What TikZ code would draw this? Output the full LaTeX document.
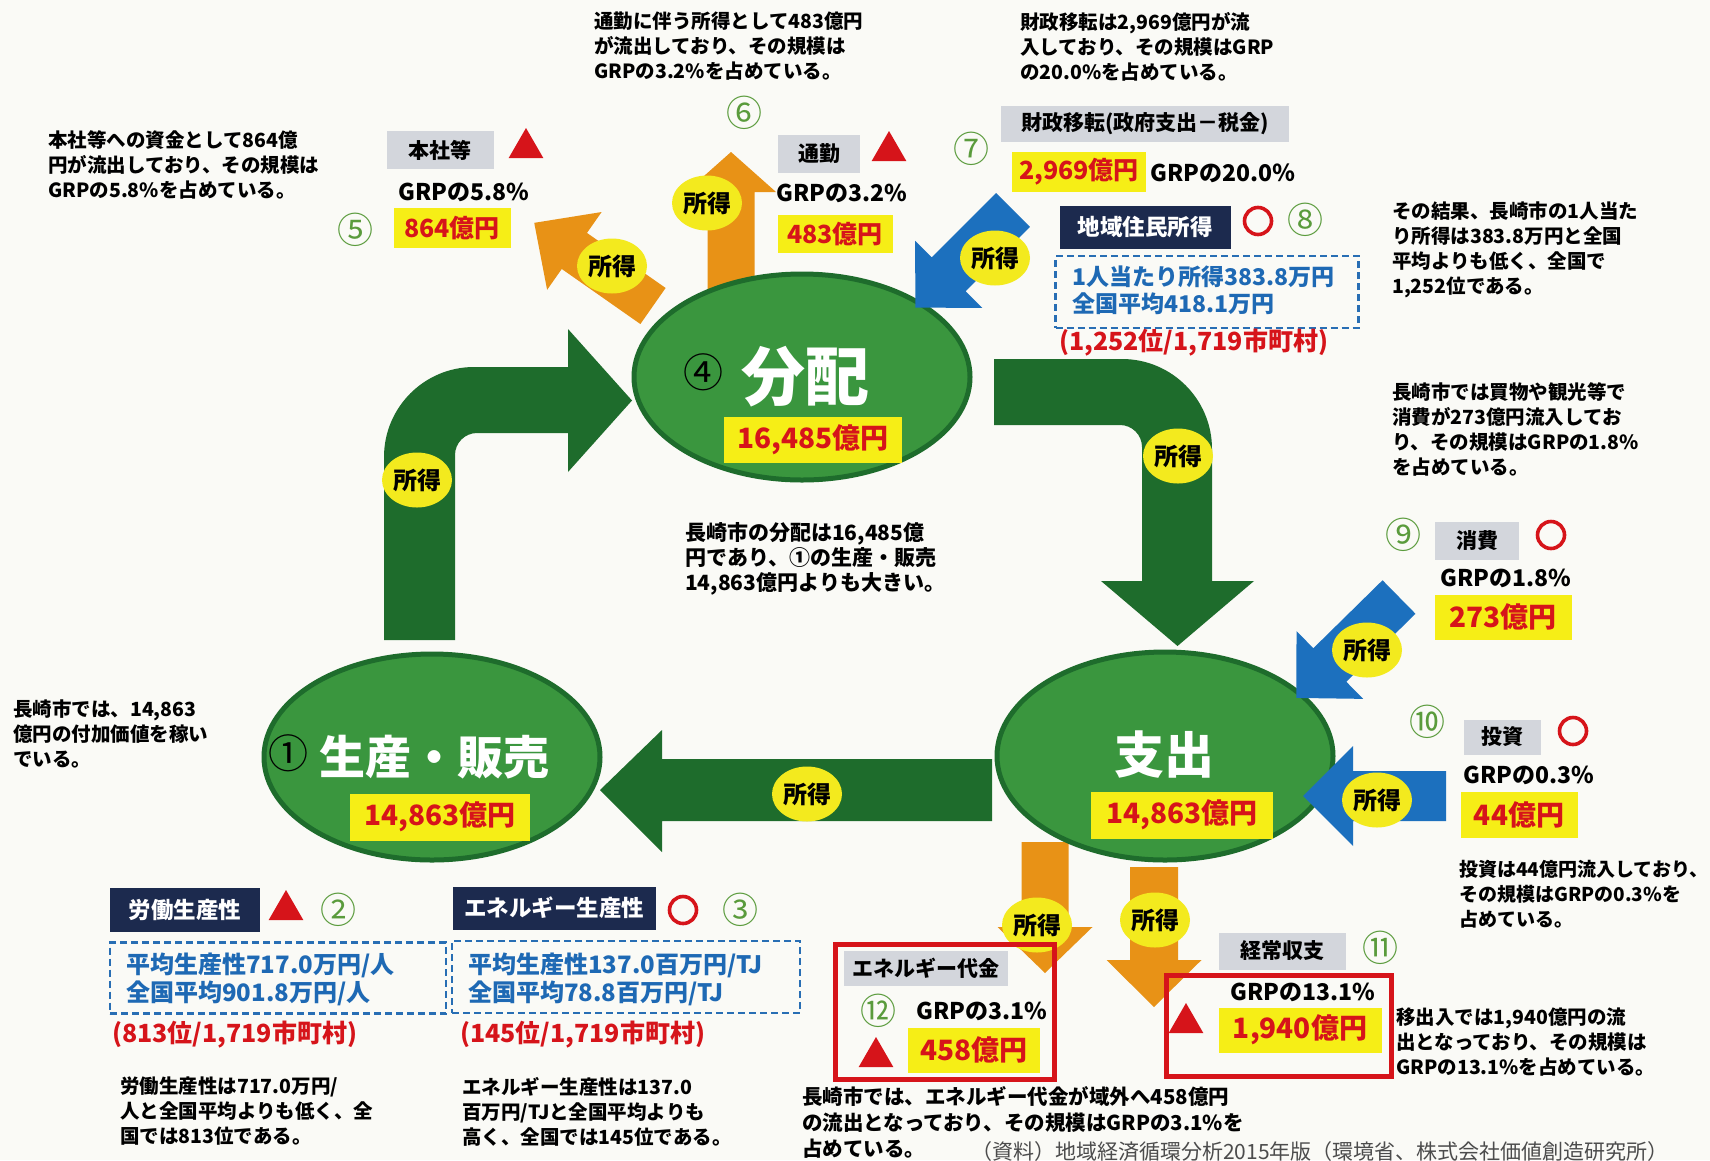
\documentclass[tikz,border=0pt]{standalone}
\usepackage{fontspec}
\setmainfont{Noto Sans CJK JP}
\usetikzlibrary{shapes.geometric}
\definecolor{bg}{RGB}{250,250,246}
\definecolor{dkgreen}{RGB}{30,108,44}
\definecolor{ellfill}{RGB}{58,150,62}
\definecolor{orng}{RGB}{232,146,22}
\definecolor{blu}{RGB}{28,112,190}
\definecolor{yel}{RGB}{246,238,22}
\definecolor{lblyel}{RGB}{243,234,30}
\definecolor{numred}{RGB}{214,20,26}
\definecolor{navy}{RGB}{28,42,78}
\definecolor{gbox}{RGB}{211,214,220}
\definecolor{dashblue}{RGB}{40,110,180}
\definecolor{txtblue}{RGB}{30,105,180}
\definecolor{cgreen}{RGB}{90,155,60}
\newcommand\blockarr[8]{%
  \begin{scope}[shift={(#2,#3)},rotate=#4]
    \fill[#1] (0,-#6/2) -- (#5-#8,-#6/2) -- (#5-#8,-#7/2) -- (#5,0) -- (#5-#8,#7/2) -- (#5-#8,#6/2) -- (0,#6/2) -- cycle;
  \end{scope}}
\tikzset{
  body/.style={anchor=north west,align=left,inner sep=0pt,text=black,font=\fontsize{19.5}{25}\selectfont\bfseries},
  graybx/.style={fill=gbox,inner sep=0pt,font=\fontsize{21}{24}\selectfont\bfseries},
  ybox/.style={fill=yel,inner sep=0pt,text=numred,font=\fontsize{25}{28}\selectfont\bfseries},
  ybig/.style={ybox,font=\fontsize{28}{30}\selectfont\bfseries},
  nbox/.style={fill=navy,text=white,inner sep=0pt,font=\fontsize{22.5}{26}\selectfont\bfseries},
  dbox/.style={draw=dashblue,line width=2.2pt,dash pattern=on 7pt off 4pt,inner sep=0pt},
  btxt/.style={anchor=north west,align=left,inner sep=0pt,text=txtblue,font=\fontsize{24}{28}\selectfont\bfseries},
  rtxt/.style={anchor=west,inner sep=0pt,text=numred,font=\fontsize{25}{28}\selectfont\bfseries},
  grp/.style={inner sep=0pt,font=\fontsize{23}{26}\selectfont\bfseries},
  cnum/.style={inner sep=0pt,text=cgreen,font=\fontsize{36}{38}\selectfont},
  lbl/.style={ellipse,fill=lblyel,minimum width=70pt,minimum height=55pt,inner sep=0pt,font=\fontsize{24}{26}\selectfont\bfseries},
  ell/.style={ellipse,draw=dkgreen,line width=5pt,fill=ellfill,inner sep=0pt},
  redbox/.style={draw=numred,line width=5pt,inner sep=0pt},
  tri/.style={regular polygon,regular polygon sides=3,fill=numred,minimum size=40pt,inner sep=0pt},
  rc/.style={circle,draw=numred,line width=3.6pt,minimum size=27pt,inner sep=0pt},
  wtxt/.style={text=white,inner sep=0pt},
  inum/.style={inner sep=0pt,text=black,font=\fontsize{40}{40}\selectfont},
}
\begin{document}
\begin{tikzpicture}[x=1pt,y=-1pt]
\fill[bg] (0,0) rectangle (1710,1160);
\useasboundingbox (0,0) rectangle (1710,1160);

% green cycle arrows
\fill[dkgreen] (384,640) -- (384,457) .. controls (384,407.3) and (424.3,367) .. (474,367) -- (568,367) -- (568,329) -- (632,400.5) -- (568,472) -- (568,433) -- (477,433) .. controls (464.9,433) and (455,442.9) .. (455,455) -- (455,640) -- cycle;
\fill[dkgreen] (994,359) -- (1122,359) .. controls (1171.7,359) and (1212,399.3) .. (1212,449) -- (1212,581) -- (1254,581) -- (1177.5,646) -- (1101,581) -- (1142,581) -- (1142,447) .. controls (1142,434.9) and (1132.1,425) .. (1120,425) -- (994,425) -- cycle;
\fill[dkgreen] (992,759) -- (662,759) -- (662,730) -- (600,790) -- (662,852) -- (662,821) -- (992,821) -- cycle;

% orange outflows
\blockarr{orng}{653}{306}{145}{145}{44}{95}{49}
\blockarr{orng}{731}{292}{90}{140}{47}{90}{40}
\blockarr{orng}{1045}{842}{270}{131}{47}{95}{46}
\blockarr{orng}{1154}{867}{270}{140}{48}{95}{47}

% ellipses
\node[ell,minimum width=336pt,minimum height=206pt] (e1) at (432,757) {};
\node[ell,minimum width=336pt,minimum height=206pt] (e2) at (802,377) {};
\node[ell,minimum width=336pt,minimum height=208pt] (e3) at (1165,756) {};

% blue inflows
\blockarr{blu}{1013}{210}{225}{138}{48}{95}{47}
\blockarr{blu}{1399}{597}{224.5}{144}{47}{95}{47}
\blockarr{blu}{1446}{796}{180}{143}{50}{100}{50}

% ellipse contents
\node[inum] (c1) at (288,753) {①};
\node[wtxt,font=\fontsize{46}{48}\selectfont\bfseries] (l1) at (434,757) {生産・販売};
\node[ybig,minimum width=180pt,minimum height=47pt] (y1) at (440,817) {14,863億円};
\node[inum] (c4) at (703,372) {④};
\node[wtxt,font=\fontsize{64}{66}\selectfont\bfseries] (l2) at (805,377) {分配};
\node[ybig,minimum width=178pt,minimum height=46pt] (y2) at (813,440) {16,485億円};
\node[wtxt,font=\fontsize{50}{52}\selectfont\bfseries] (l3) at (1164,755) {支出};
\node[ybig,minimum width=182pt,minimum height=47pt] (y3) at (1182,815) {14,863億円};

% income labels
\node[lbl] (la) at (417,480) {所得};
\node[lbl] (lb) at (1178,456) {所得};
\node[lbl] (lc) at (807,794) {所得};
\node[lbl] (l5) at (612,266) {所得};
\node[lbl] (l6) at (707,203) {所得};
\node[lbl] (l7) at (995,258) {所得};
\node[lbl] (l9) at (1367,650) {所得};
\node[lbl] (l10) at (1377,800) {所得};
\node[lbl] (l12) at (1037,925) {所得};
\node[lbl] (l11) at (1155,920) {所得};

% 5 本社等
\node[body] (t5) at (48,130) {本社等への資金として864億\\円が流出しており、その規模は\\GRPの5.8\%を占めている。};
\node[graybx,minimum width=107pt,minimum height=38pt] (g5) at (440,150) {本社等};
\node[tri] (r5) at (526,148) {};
\node[grp] (p5) at (464,192) {GRPの5.8\%};
\node[cnum] (n5) at (355,230) {⑤};
\node[ybox,minimum width=117pt,minimum height=40pt] (y5) at (452,228) {864億円};

% 6 通勤
\node[body] (t6) at (594,12) {通勤に伴う所得として483億円\\が流出しており、その規模は\\GRPの3.2\%を占めている。};
\node[cnum] (n6) at (744,113) {⑥};
\node[graybx,minimum width=82pt,minimum height=38pt] (g6) at (819,154) {通勤};
\node[tri] (r6) at (889,151) {};
\node[grp] (p6) at (842,193) {GRPの3.2\%};
\node[ybox,minimum width=115pt,minimum height=38pt] (y6) at (835,234) {483億円};

% 7 財政移転
\node[body] (t7) at (1020,12) {財政移転は2,969億円が流\\入しており、その規模はGRP\\の20.0\%を占めている。};
\node[cnum] (n7) at (971,149) {⑦};
\node[graybx,minimum width=288pt,minimum height=36pt] (g7) at (1145,124) {財政移転(政府支出－税金)};
\node[ybox,minimum width=134pt,minimum height=40pt] (y7) at (1079,172) {2,969億円};
\node[grp,anchor=west] (p7) at (1150,173) {GRPの20.0％};

% 8 地域住民所得
\node[nbox,minimum width=171pt,minimum height=43pt] (b8) at (1145,227) {地域住民所得};
\node[rc] (o8) at (1258,221) {};
\node[cnum] (n8) at (1305,220) {⑧};
\node[dbox,minimum width=303pt,minimum height=72pt] (d8) at (1207,292) {};
\node[btxt,font=\fontsize{23}{27}\selectfont\bfseries] (s8) at (1072,266) {1人当たり所得383.8万円\\全国平均418.1万円};
\node[rtxt] (k8) at (1059,343) {(1,252位/1,719市町村)};
\node[body] (t8) at (1392,202) {その結果、長崎市の1人当た\\り所得は383.8万円と全国\\平均よりも低く、全国で\\1,252位である。};

% 9 消費
\node[body] (t9) at (1392,382) {長崎市では買物や観光等で\\消費が273億円流入してお\\り、その規模はGRPの1.8\%\\を占めている。};
\node[cnum] (n9) at (1403,535) {⑨};
\node[graybx,minimum width=84pt,minimum height=38pt] (g9) at (1477,541) {消費};
\node[rc] (o9) at (1551,535) {};
\node[grp] (p9) at (1506,578) {GRPの1.8\%};
\node[ybig,minimum width=137pt,minimum height=45pt] (y9) at (1503,617) {273億円};

% 10 投資
\node[cnum] (n10) at (1427,722) {⑩};
\node[graybx,minimum width=77pt,minimum height=35pt] (g10) at (1502,737) {投資};
\node[rc] (o10) at (1573,731) {};
\node[grp] (p10) at (1529,775) {GRPの0.3\%};
\node[ybig,minimum width=117pt,minimum height=46pt] (y10) at (1519,815) {44億円};
\node[body,font=\fontsize{19}{25}\selectfont\bfseries] (t10) at (1459,860) {投資は44億円流入しており、\\その規模はGRPの0.3\%を\\占めている。};

% 11 経常収支
\node[graybx,minimum width=127pt,minimum height=37pt] (g11) at (1282,951) {経常収支};
\node[cnum] (n11) at (1380,948) {⑪};
\node[redbox,minimum width=225pt,minimum height=101pt] (rb11) at (1278.5,1025.5) {};
\node[grp] (p11) at (1303,992) {GRPの13.1\%};
\node[tri] (r11) at (1186,1023) {};
\node[ybig,minimum width=163pt,minimum height=45pt] (y11) at (1300,1030) {1,940億円};
\node[body] (t11) at (1396,1008) {移出入では1,940億円の流\\出となっており、その規模は\\GRPの13.1\%を占めている。};

% 12 エネルギー代金
\node[redbox,minimum width=219pt,minimum height=135pt] (rb12) at (944.5,1011.5) {};
\node[graybx,minimum width=164pt,minimum height=35pt] (g12) at (926,968) {エネルギー代金};
\node[cnum] (n12) at (878,1011) {⑫};
\node[grp] (p12) at (982,1011) {GRPの3.1\%};
\node[tri] (r12) at (876,1057) {};
\node[ybig,minimum width=132pt,minimum height=45pt] (y12) at (974,1050) {458億円};
\node[body,font=\fontsize{20.5}{26}\selectfont\bfseries] (t12) at (802,1086) {長崎市では、エネルギー代金が域外へ458億円\\の流出となっており、その規模はGRPの3.1\%を\\占めている。};

% 1 生産
\node[body] (t1) at (13,700) {長崎市では、14,863\\億円の付加価値を稼い\\でいる。};
% 2 労働生産性
\node[nbox,minimum width=150pt,minimum height=44pt] (b2) at (185,910) {労働生産性};
\node[tri] (r2) at (286,910) {};
\node[cnum] (n2) at (338,910) {②};
\node[dbox,minimum width=336pt,minimum height=71pt] (d2) at (278,978) {};
\node[btxt] (s2) at (126,953) {平均生産性717.0万円/人\\全国平均901.8万円/人};
\node[rtxt] (k2) at (112,1035) {(813位/1,719市町村)};
\node[body] (t2) at (120,1077) {労働生産性は717.0万円/\\人と全国平均よりも低く、全\\国では813位である。};
% 3 エネルギー生産性
\node[nbox,minimum width=203pt,minimum height=43pt] (b3) at (554,908) {エネルギー生産性};
\node[rc] (o3) at (683,910) {};
\node[cnum] (n3) at (740,910) {③};
\node[dbox,minimum width=348pt,minimum height=72pt] (d3) at (626,977) {};
\node[btxt] (s3) at (468,953) {平均生産性137.0百万円/TJ\\全国平均78.8百万円/TJ};
\node[rtxt] (k3) at (460,1035) {(145位/1,719市町村)};
\node[body] (t3) at (462,1077) {エネルギー生産性は137.0\\百万円/TJと全国平均よりも\\高く、全国では145位である。};

% 4 分配
\node[body,font=\fontsize{21}{25}\selectfont\bfseries] (t4) at (685,522) {長崎市の分配は16,485億\\円であり、①の生産・販売\\14,863億円よりも大きい。};

% source
\node[anchor=west,inner sep=0pt,text=black!70,font=\fontsize{21}{24}\selectfont] (src) at (971,1152) {（資料）地域経済循環分析2015年版（環境省、株式会社価値創造研究所）};
\end{tikzpicture}
\end{document}
